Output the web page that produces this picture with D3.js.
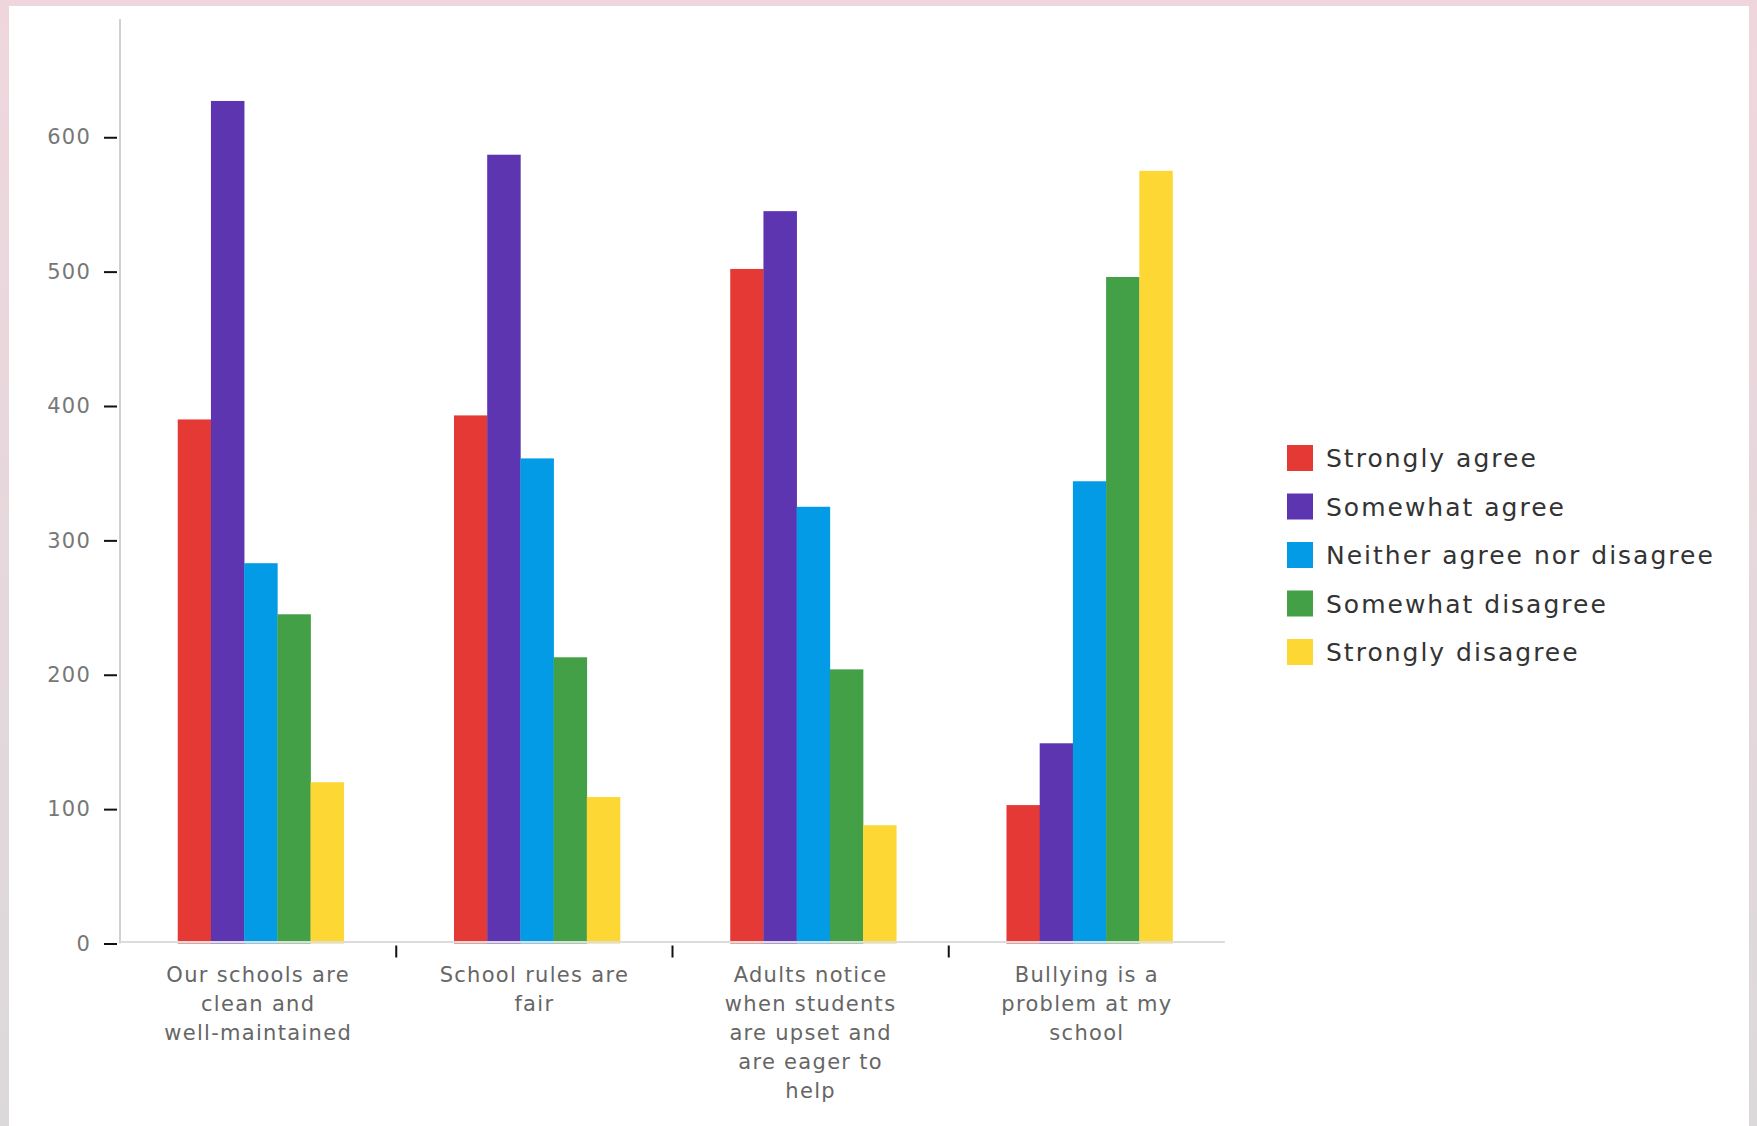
<!DOCTYPE html>
<html><head><meta charset="utf-8">
<script src="https://cdn.jsdelivr.net/npm/d3@7"></script>
<style>
body{margin:0;background:#fff;}
svg{display:block;font-family:"DejaVu Sans",sans-serif;}
</style>
</head><body>
<svg id="chart" width="1757" height="1126"></svg>
<script>
// ---- data ----
const categories = [
  "Our schools are clean and well-maintained",
  "School rules are fair",
  "Adults notice when students are upset and are eager to help",
  "Bullying is a problem at my school"
];
const categoryLabelLines = [
  ["Our schools are", "clean and", "well-maintained"],
  ["School rules are", "fair"],
  ["Adults notice", "when students", "are upset and", "are eager to", "help"],
  ["Bullying is a", "problem at my", "school"]
];
const seriesNames = ["Strongly agree", "Somewhat agree", "Neither agree nor disagree", "Somewhat disagree", "Strongly disagree"];
const seriesColors = ["#e53935", "#5e35b1", "#039be5", "#43a047", "#fdd835"];
const stronglyAgree     = [390, 393, 502, 103];
const somewhatAgree     = [627, 587, 545, 149];
const neitherAgree      = [283, 361, 325, 344];
const somewhatDisagree  = [245, 213, 204, 496];
const stronglyDisagree  = [120, 109, 88, 575];
const seriesValues = [stronglyAgree, somewhatAgree, neitherAgree, somewhatDisagree, stronglyDisagree];
const yTickValues = [0, 100, 200, 300, 400, 500, 600];

// ---- layout ----
const W = 1757, H = 1126;
const plot = {left: 120, right: 1225, top: 19, bottom: 943.5};
const svg = d3.select("#chart");

const defs = svg.append("defs");
const grad = defs.append("linearGradient").attr("id", "bg").attr("x1", 0).attr("y1", 0).attr("x2", 0).attr("y2", 1);
grad.append("stop").attr("offset", "0%").attr("stop-color", "#efd6dd");
grad.append("stop").attr("offset", "100%").attr("stop-color", "#dcd9da");
svg.append("rect").attr("width", W).attr("height", H).attr("fill", "url(#bg)");
svg.append("rect").attr("x", 9).attr("y", 6).attr("width", 1740).attr("height", H - 6).attr("fill", "#fff");

const x0 = d3.scaleBand().domain(categories).range([plot.left, plot.right]).paddingInner(0).paddingOuter(0);
const x1 = d3.scaleBand().domain(seriesNames).range([x0.bandwidth() * 0.209, x0.bandwidth() * 0.81]).padding(0);
const y = d3.scaleLinear().domain([0, 688]).range([plot.bottom, plot.top]);

// bars
const groups = svg.append("g").selectAll("g").data(categories).join("g")
  .attr("transform", d => `translate(${x0(d)},0)`);
groups.selectAll("rect")
  .data((c, ci) => seriesNames.map((s, si) => ({s, v: seriesValues[si][ci], color: seriesColors[si]})))
  .join("rect")
  .attr("x", d => x1(d.s))
  .attr("width", x1.bandwidth() + 0.3)
  .attr("y", d => y(d.v))
  .attr("height", d => y(0) - y(d.v))
  .attr("fill", d => d.color);

// y axis
const yAxis = d3.axisLeft(y).tickValues(yTickValues).tickSize(15).tickPadding(13);
const gy = svg.append("g").attr("transform", `translate(${plot.left - 1},0)`).call(yAxis);
gy.select(".domain").remove();
gy.selectAll(".tick line").attr("stroke", "#111").attr("stroke-width", 2).attr("x2", -15).attr("x1", -2);
gy.selectAll(".tick text").attr("fill", "#777").attr("font-size", 21).attr("letter-spacing", 1.2)
  .attr("font-family", "DejaVu Sans, sans-serif");
svg.append("line").attr("x1", plot.left).attr("x2", plot.left).attr("y1", plot.top).attr("y2", y(0))
  .attr("stroke", "#d0d0d0").attr("stroke-width", 2);

// x baseline
svg.append("line").attr("x1", plot.left).attr("x2", plot.right).attr("y1", y(0) - 1.5).attr("y2", y(0) - 1.5)
  .attr("stroke", "#dcdcdc").attr("stroke-width", 2);

// x ticks between bands
svg.append("g").selectAll("line").data(categories.slice(1)).join("line")
  .attr("x1", d => x0(d)).attr("x2", d => x0(d))
  .attr("y1", y(0) + 2).attr("y2", y(0) + 14)
  .attr("stroke", "#111").attr("stroke-width", 2);

// x labels
const xl = svg.append("g").selectAll("text").data(categories).join("text")
  .attr("x", d => x0(d) + x0.bandwidth() / 2)
  .attr("y", 982)
  .attr("text-anchor", "middle")
  .attr("fill", "#666").attr("font-size", 21).attr("letter-spacing", 1.3);
xl.each(function(d, i) {
  const t = d3.select(this);
  categoryLabelLines[i].forEach((line, li) => {
    t.append("tspan").attr("x", x0(d) + x0.bandwidth() / 2).attr("dy", li === 0 ? 0 : 29).text(line);
  });
});

// legend
const legend = svg.append("g").attr("transform", "translate(1287,458)");
const li = legend.selectAll("g").data(seriesNames).join("g")
  .attr("transform", (d, i) => `translate(0,${i * 48.5})`);
li.append("rect").attr("x", 0).attr("y", -13).attr("width", 26).attr("height", 26)
  .attr("fill", (d, i) => seriesColors[i]);
li.append("text").attr("x", 39).attr("y", 0).attr("dy", "0.36em")
  .attr("font-size", 25).attr("letter-spacing", 2).attr("fill", "#333").text(d => d);
</script>
</body></html>
